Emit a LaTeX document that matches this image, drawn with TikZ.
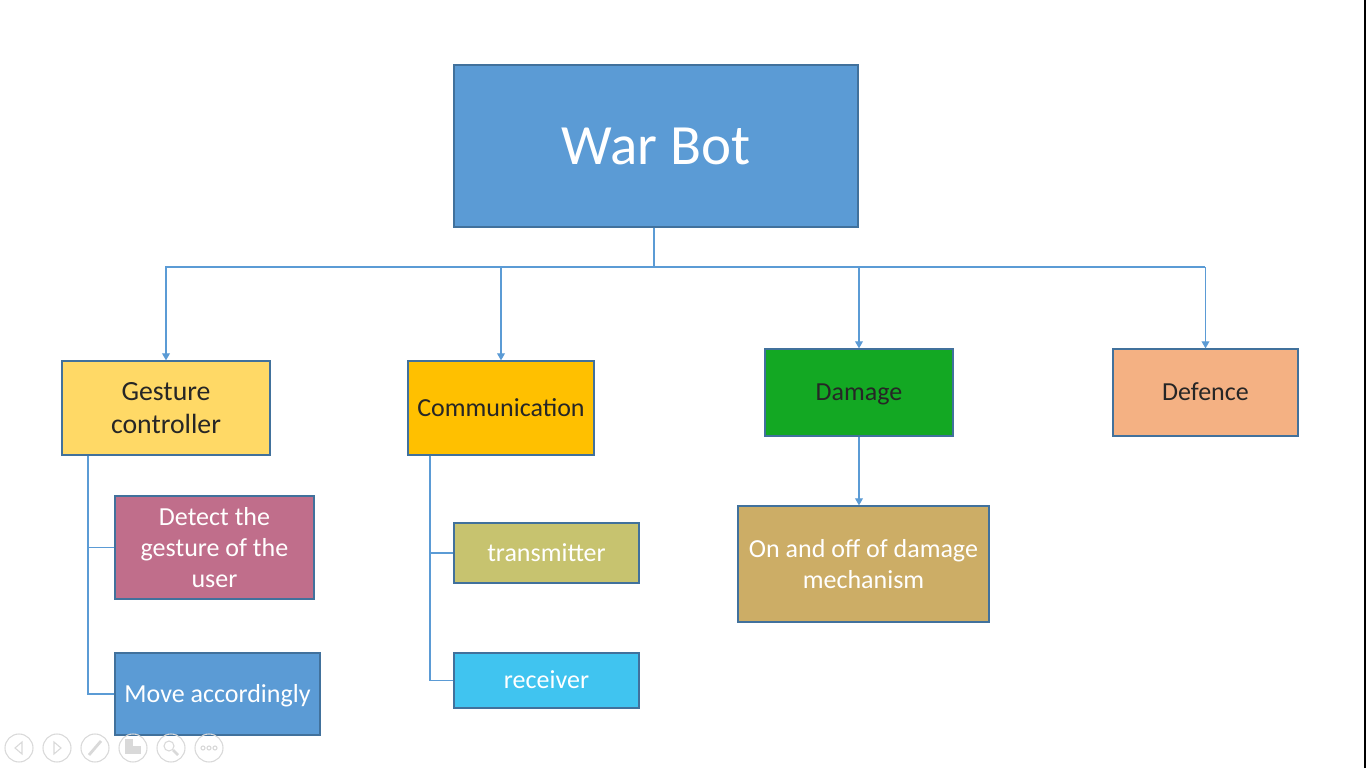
\documentclass[tikz,border=0pt]{standalone}
\usepackage{fontspec}
\setmainfont{Carlito}
\usepackage{xcolor}
\usepackage{tikz}
\usetikzlibrary{arrows.meta}

\definecolor{boxline}{HTML}{41719C}
\definecolor{link}{HTML}{5B9BD5}
\definecolor{darktext}{HTML}{262626}
\definecolor{cblue}{HTML}{5B9BD5}
\definecolor{cyellow}{HTML}{FFD966}
\definecolor{corange}{HTML}{FFC000}
\definecolor{cgreen}{HTML}{13A823}
\definecolor{cpeach}{HTML}{F4B183}
\definecolor{cpink}{HTML}{C06E8B}
\definecolor{colive}{HTML}{C7C36F}
\definecolor{csky}{HTML}{40C4F0}
\definecolor{ctan}{HTML}{CCAD66}
\definecolor{icon}{HTML}{D9D9D9}

\begin{document}
\begin{tikzpicture}[
  box/.style={draw=boxline, line width=0.35pt, align=center, inner sep=0pt,
    font=\fontsize{7.4}{8.7}\selectfont},
  oneline/.style={text height=6.6pt, text depth=1.8pt},
  light/.style={box, text=white},
  dark/.style={box, text=darktext},
  link/.style={draw=link, line width=0.35pt},
  tip/.style={link, -{Triangle[width=2.2pt,length=2pt]}},
  ctrl/.style={draw=icon, line width=0.3pt}
]
\useasboundingbox (0,0) rectangle (13.66,7.68);
\fill[white] (0,0) rectangle (13.66,7.68);

\node[light, fill=cblue, minimum width=4.04cm, minimum height=1.62cm,
  font=\fontsize{16.2}{19}\selectfont] (warbot) at (6.56,6.22) {War Bot};

\node[dark, fill=cyellow, minimum width=2.08cm, minimum height=0.94cm,
  font=\fontsize{7.9}{9.4}\selectfont] (gesture) at (1.66,3.60) {Gesture\\controller};
\node[dark, oneline, fill=corange, minimum width=1.86cm, minimum height=0.94cm] (comm) at (5.01,3.60) {Communication};
\node[dark, oneline, fill=cgreen, minimum width=1.88cm, minimum height=0.87cm] (damage) at (8.59,3.755) {Damage};
\node[dark, oneline, fill=cpeach, minimum width=1.85cm, minimum height=0.87cm] (defence) at (12.055,3.755) {Defence};

\node[light, fill=cpink, minimum width=1.99cm, minimum height=1.03cm] (detect) at (2.145,2.205) {Detect the\\gesture of the\\user};
\node[light, oneline, fill=cblue, minimum width=2.05cm, minimum height=0.82cm] (move) at (2.175,0.74) {Move accordingly};
\node[light, oneline, fill=colive, minimum width=1.85cm, minimum height=0.60cm] (transmitter) at (5.465,2.15) {transmitter};
\node[light, oneline, fill=csky, minimum width=1.85cm, minimum height=0.55cm] (receiver) at (5.465,0.875) {receiver};
\node[light, fill=ctan, minimum width=2.51cm, minimum height=1.16cm] (onoff) at (8.635,2.04) {On and off of damage\\mechanism};

\coordinate (bus) at (6.54,5.01);
\coordinate (busleft) at (1.65,5.01);
\coordinate (busright) at (12.05,5.01);
\coordinate (gtrunk) at (0.88,0.74);
\coordinate (ctrunk) at (4.30,0.875);

\draw[link] (warbot.south -| bus) -- (bus);
\draw[link] (busleft) -- (busright);
\draw[tip] (gesture.north |- bus) -- (gesture.north);
\draw[tip] (comm.north |- bus) -- (comm.north);
\draw[tip] (damage.north |- bus) -- (damage.north);
\draw[tip] (defence.north |- bus) -- (defence.north);
\draw[tip] (damage.south) -- (damage.south |- onoff.north);

\draw[link] (gesture.south -| gtrunk) -- (gtrunk) -- (move.west);
\draw[link] (gtrunk |- detect.west) -- (detect.west);
\draw[link] (comm.south -| ctrunk) -- (ctrunk) -- (receiver.west);
\draw[link] (ctrunk |- transmitter.west) -- (transmitter.west);

\draw[ctrl] (0.19,0.20) circle (0.14);
\draw[ctrl] (0.57,0.20) circle (0.14);
\draw[ctrl] (0.95,0.20) circle (0.14);
\draw[ctrl] (1.33,0.20) circle (0.14);
\draw[ctrl] (1.71,0.20) circle (0.14);
\draw[ctrl] (2.09,0.20) circle (0.14);
\draw[ctrl] (0.22,0.26) -- (0.15,0.20) -- (0.22,0.14) -- cycle;
\draw[ctrl] (0.54,0.26) -- (0.61,0.20) -- (0.54,0.14) -- cycle;
\draw[ctrl, line width=0.8pt] (0.89,0.13) -- (1.01,0.27);
\draw[ctrl, fill=icon] (1.26,0.15) rectangle (1.32,0.21);
\draw[ctrl, fill=icon] (1.34,0.15) rectangle (1.40,0.21);
\draw[ctrl, fill=icon] (1.26,0.23) rectangle (1.32,0.28);
\draw[ctrl] (1.69,0.22) circle (0.05);
\draw[ctrl, line width=0.8pt] (1.73,0.18) -- (1.78,0.13);
\draw[ctrl] (2.03,0.20) circle (0.02);
\draw[ctrl] (2.09,0.20) circle (0.02);
\draw[ctrl] (2.15,0.20) circle (0.02);

\draw[black, line width=0.7pt] (13.655,0) -- (13.655,7.68);
\end{tikzpicture}
\end{document}
